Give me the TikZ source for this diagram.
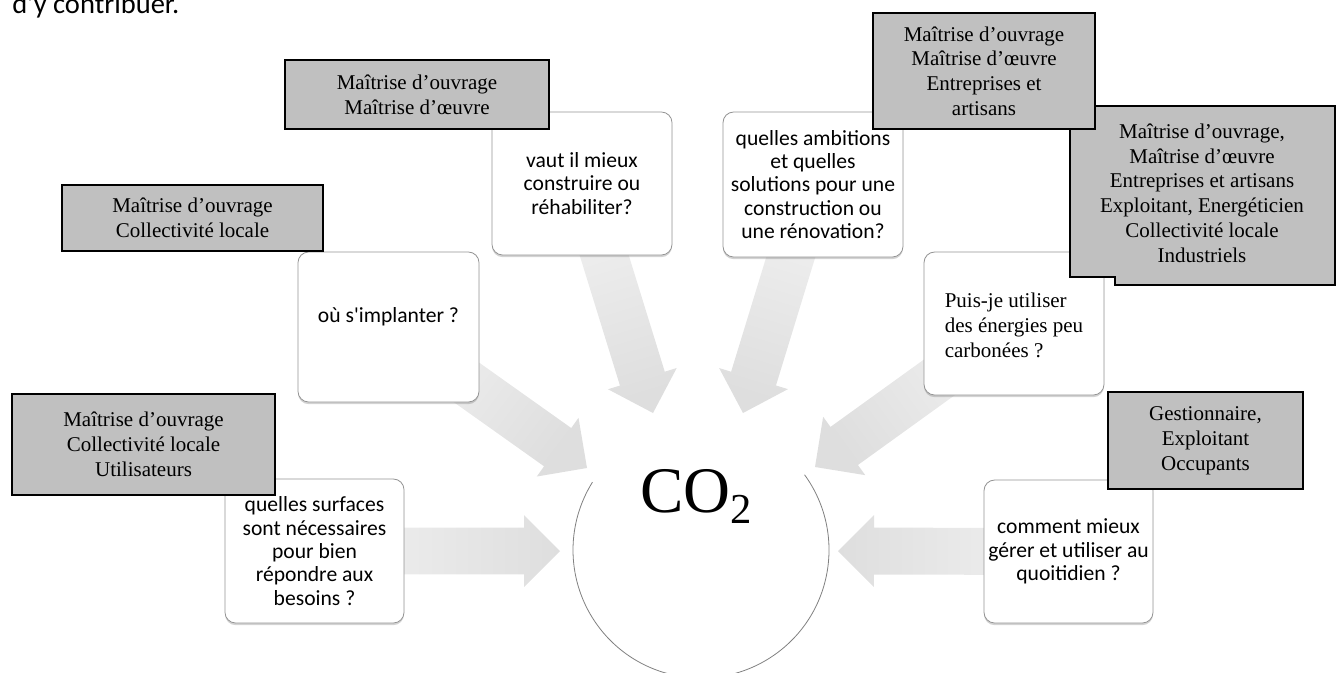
\documentclass[tikz,border=0pt]{standalone}
\usepackage{fontspec}
\setmainfont{Liberation Serif}
\newfontfamily\calib{Carlito}[Ligatures=TeXOff]
\usetikzlibrary{shadows,calc}
\definecolor{gbfill}{RGB}{192,192,192}
\definecolor{arrlight}{RGB}{242,242,242}
\definecolor{arrdark}{RGB}{222,222,222}
\newcommand\gbfont{\fontsize{15.75pt}{18.6pt}\selectfont}
\newcommand\wbfont{\calib\fontsize{16.2pt}{17.5pt}\selectfont}
% #1 start coordinate, #2 tip coordinate, #3 shading angle
\newcommand\blkarrow[3]{%
\shade[arrowfill, shading angle=#3] let \p1=($(#2)-(#1)$), \n1={atan2(\y1,\x1)} in
  ($(#1)+(\n1+90:17.6pt)$) --
  ($(#2)+(\n1+180:27pt)+(\n1+90:17.6pt)$) --
  ($(#2)+(\n1+180:27pt)+(\n1+90:27pt)$) --
  (#2) --
  ($(#2)+(\n1+180:27pt)+(\n1-90:27pt)$) --
  ($(#2)+(\n1+180:27pt)+(\n1-90:17.6pt)$) --
  ($(#1)+(\n1-90:17.6pt)$) -- cycle;}
\begin{document}
\begin{tikzpicture}[x=0.75pt, y=-0.75pt,
  sz/.style 2 args={minimum width=#1*0.75pt, minimum height=#2*0.75pt},
  graybox/.style={draw=black, line width=1.4pt, fill=gbfill, inner sep=0pt, align=center, font=\gbfont},
  whitebox/.style={draw=black!42, line width=0.6pt, fill=white, rounded corners=8pt, inner sep=0pt,
     align=center, font=\wbfont, drop shadow={shadow xshift=0pt, shadow yshift=-1.6pt, opacity=0.35}},
  arrowfill/.style={top color=arrlight, bottom color=arrdark}]
\useasboundingbox (0,0) rectangle (1339,672);
\clip (0,0) rectangle (1339,672);

\node[anchor=base west, inner sep=0pt, font=\calib\fontsize{21.4pt}{25pt}\selectfont] (intro) at (12,13.5) {d’y contribuer.};

% box centres and arrow tips
\coordinate (w1c) at (388.5,327);
\coordinate (w2c) at (582,183.5);
\coordinate (w3c) at (813,184.5);
\coordinate (w4c) at (1014,323.5);
\coordinate (w5c) at (314.5,551);
\coordinate (w6c) at (1068.5,551.5);
\coordinate (t1) at (587,468);
\coordinate (t2) at (653,413);
\coordinate (t3) at (743,413);
\coordinate (t4) at (815,467);
\coordinate (t5) at (560,551);
\coordinate (t6) at (838,551);

% block arrows (shading angle = direction + 90)
\blkarrow{w1c}{t1}{53}
\blkarrow{w2c}{t2}{17}
\blkarrow{w3c}{t3}{-17}
\blkarrow{w4c}{t4}{-54}
\blkarrow{w5c}{t5}{90}
\blkarrow{w6c}{t6}{270}

% central circle
\node[circle, fill=white, minimum size=256*0.75pt, inner sep=0pt] (co2) at (701,550) {};
\draw[black!50, line width=0.6pt] ($(co2.center)+(-36:128)$) arc[start angle=-36, end angle=212, radius=128];
\node[anchor=base west, inner sep=0pt, font=\fontsize{48.75pt}{52pt}\selectfont] (co2lbl) at (640,512)
  {CO\raisebox{-8.25pt}{\fontsize{32pt}{34pt}\selectfont 2}};

% question boxes
\node[whitebox, sz={181}{150}] (w1) at (w1c) {\raisebox{7.5pt}[\height][\depth]{où s'implanter ?}};
\node[whitebox, sz={180}{143}] (w2) at (w2c) {vaut il mieux\\construire ou\\réhabiliter?};
\node[whitebox, sz={180}{145}] (w3) at (w3c) {quelles ambitions\\et quelles\\solutions pour une\\construction ou\\une rénovation?};
\node[whitebox, sz={180}{143}, align=left, font=\gbfont] (w4) at (w4c) {\raisebox{-3pt}[\height][\depth]{\begin{tabular}{@{}l@{}}Puis-je utiliser\\des énergies peu\\carbonées ?\end{tabular}}};
\node[whitebox, sz={179}{144}] (w5) at (w5c) {quelles surfaces\\sont nécessaires\\pour bien\\répondre aux\\besoins ?};
\node[whitebox, sz={169}{143}] (w6) at (w6c) {comment mieux\\gérer et utiliser au\\quoitidien ?};

% actor boxes
\draw[fill=gbfill, draw=black, line width=1.4pt] (1070,106) -- (1335,106) -- (1335,285) -- (1115,285) -- (1115,277) -- (1070,277) -- cycle;
\node[align=center, font=\gbfont, inner sep=0pt] (gD) at (1202,193) {Maîtrise d’ouvrage,\\Maîtrise d’œuvre\\Entreprises et artisans\\Exploitant, Energéticien\\Collectivité locale\\Industriels};
\node[graybox, sz={222}{116}] (gC) at (984,71) {Maîtrise d’ouvrage\\Maîtrise d’œuvre\\Entreprises et\\artisans};
\node[graybox, sz={264}{69}] (gB) at (417,94.5) {Maîtrise d’ouvrage\\Maîtrise d’œuvre};
\node[graybox, sz={261}{66}] (gA) at (192.5,218) {Maîtrise d’ouvrage\\Collectivité locale};
\node[graybox, sz={263}{101}] (gE) at (143.5,444.5) {Maîtrise d’ouvrage\\Collectivité locale\\Utilisateurs};
\node[graybox, sz={195}{97}] (gF) at (1205.5,440.5) {Gestionnaire,\\Exploitant\\Occupants};
\end{tikzpicture}
\end{document}
